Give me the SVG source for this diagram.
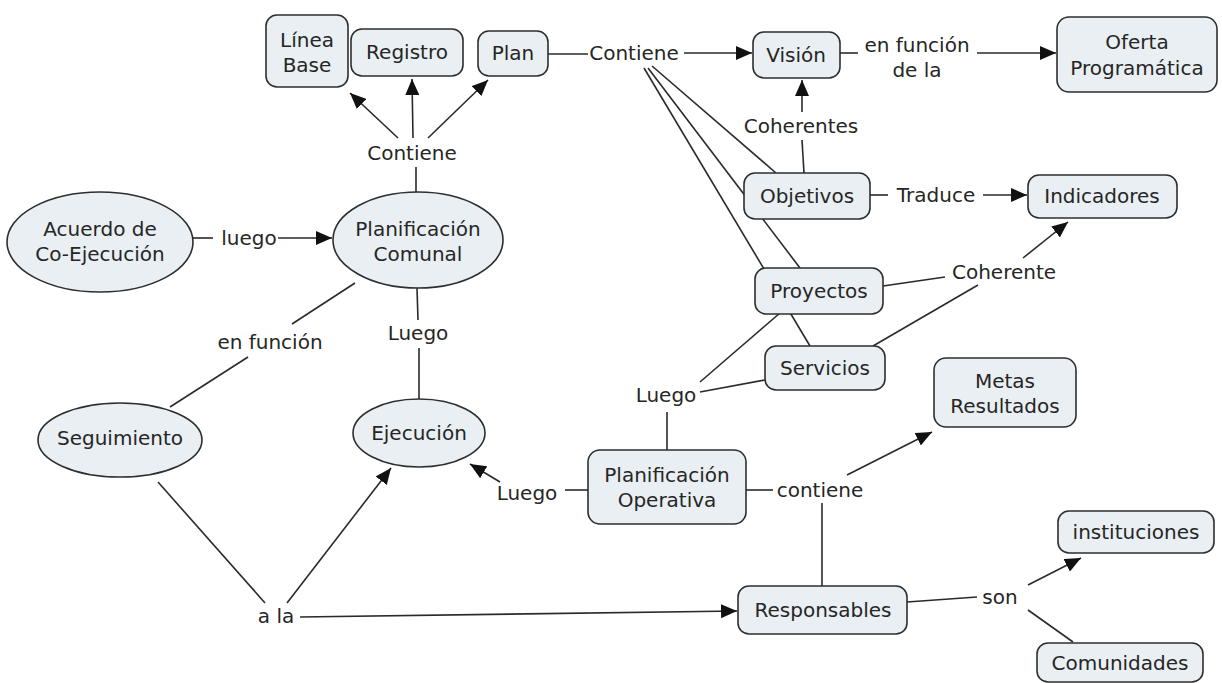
<svg xmlns="http://www.w3.org/2000/svg" width="1222" height="683" viewBox="0 0 1222 683">
  <style>
    .concept { fill: #e9eff2; stroke: #2e2e2e; stroke-width: 1.6; }
    .link { fill: none; stroke: #2a2a2a; stroke-width: 1.6; }
    .arrow { marker-end: url(#head); }
    text { font-family: "DejaVu Sans", Verdana, sans-serif; font-size: 20px; fill: #262626; text-anchor: middle; dominant-baseline: central; }
  </style>
  <defs>
    <marker id="head" viewBox="0 0 16 14" refX="16" refY="7" markerWidth="16" markerHeight="14" orient="auto" markerUnits="userSpaceOnUse">
      <path d="M0,0 L16,7 L0,14 z" fill="#111"/>
    </marker>
  </defs>
  <rect width="1222" height="683" fill="#ffffff"/>

  <!-- connectors -->
  <g id="connectors">
    <line class="link arrow" x1="398" y1="138" x2="350" y2="93"/>
    <line class="link arrow" x1="413" y1="138" x2="412" y2="79"/>
    <line class="link arrow" x1="428" y1="138" x2="488" y2="80"/>
    <line class="link" x1="416" y1="192" x2="416" y2="167"/>
    <line class="link" x1="548" y1="54" x2="588" y2="54"/>
    <line class="link arrow" x1="684" y1="53" x2="752" y2="53"/>
    <line class="link" x1="652" y1="66" x2="776" y2="173"/>
    <line class="link" x1="648" y1="68" x2="800" y2="268"/>
    <line class="link" x1="644" y1="68" x2="810" y2="346"/>
    <line class="link" x1="840" y1="53" x2="858" y2="53"/>
    <line class="link arrow" x1="977" y1="53" x2="1056" y2="53"/>
    <line class="link" x1="804" y1="173" x2="802" y2="140"/>
    <line class="link arrow" x1="802" y1="112" x2="802" y2="80"/>
    <line class="link" x1="870" y1="195" x2="888" y2="195"/>
    <line class="link arrow" x1="983" y1="195" x2="1027" y2="195"/>
    <line class="link" x1="883" y1="286" x2="945" y2="277"/>
    <line class="link" x1="873" y1="346" x2="978" y2="285"/>
    <line class="link arrow" x1="1023" y1="258" x2="1068" y2="222"/>
    <line class="link" x1="667" y1="450" x2="667" y2="412"/>
    <line class="link" x1="700" y1="382" x2="780" y2="313"/>
    <line class="link" x1="700" y1="392" x2="765" y2="380"/>
    <line class="link" x1="588" y1="490" x2="565" y2="490"/>
    <line class="link arrow" x1="500" y1="482" x2="470" y2="464"/>
    <line class="link" x1="746" y1="490" x2="773" y2="490"/>
    <line class="link arrow" x1="847" y1="475" x2="932" y2="432"/>
    <line class="link" x1="822" y1="503" x2="822" y2="586"/>
    <line class="link" x1="907" y1="602" x2="977" y2="597"/>
    <line class="link arrow" x1="1028" y1="585" x2="1081" y2="558"/>
    <line class="link" x1="1028" y1="610" x2="1073" y2="642"/>
    <line class="link" x1="193" y1="238" x2="213" y2="238"/>
    <line class="link arrow" x1="278" y1="238" x2="332" y2="238"/>
    <line class="link" x1="355" y1="283" x2="292" y2="324"/>
    <line class="link" x1="248" y1="357" x2="170" y2="407"/>
    <line class="link" x1="417" y1="288" x2="418" y2="320"/>
    <line class="link" x1="419" y1="348" x2="419" y2="399"/>
    <line class="link" x1="158" y1="482" x2="265" y2="603"/>
    <line class="link arrow" x1="287" y1="603" x2="391" y2="468"/>
    <line class="link arrow" x1="300" y1="617" x2="737" y2="611"/>
  </g>

  <!-- concepts -->
  <g id="linea-base"><rect class="concept" x="266" y="15" width="82" height="72" rx="11"/><text x="307" y="40">Línea</text><text x="307" y="65">Base</text></g>
  <g id="registro"><rect class="concept" x="351" y="29" width="112" height="47" rx="11"/><text x="407" y="52">Registro</text></g>
  <g id="plan"><rect class="concept" x="478" y="31" width="70" height="45" rx="11"/><text x="513" y="53">Plan</text></g>
  <g id="vision"><rect class="concept" x="753" y="32" width="87" height="46" rx="11"/><text x="796" y="55">Visión</text></g>
  <g id="oferta"><rect class="concept" x="1057" y="17" width="160" height="75" rx="12"/><text x="1137" y="42">Oferta</text><text x="1137" y="68">Programática</text></g>
  <g id="objetivos"><rect class="concept" x="744" y="173" width="126" height="46" rx="11"/><text x="807" y="196">Objetivos</text></g>
  <g id="indicadores"><rect class="concept" x="1028" y="175" width="149" height="43" rx="11"/><text x="1102" y="196">Indicadores</text></g>
  <g id="proyectos"><rect class="concept" x="755" y="268" width="128" height="46" rx="11"/><text x="819" y="291">Proyectos</text></g>
  <g id="servicios"><rect class="concept" x="765" y="346" width="120" height="44" rx="11"/><text x="825" y="368">Servicios</text></g>
  <g id="metas"><rect class="concept" x="934" y="358" width="142" height="69" rx="12"/><text x="1005" y="381">Metas</text><text x="1005" y="406">Resultados</text></g>
  <g id="planificacion-operativa"><rect class="concept" x="588" y="450" width="158" height="74" rx="12"/><text x="667" y="475">Planificación</text><text x="667" y="500">Operativa</text></g>
  <g id="responsables"><rect class="concept" x="738" y="586" width="169" height="48" rx="11"/><text x="823" y="610">Responsables</text></g>
  <g id="instituciones"><rect class="concept" x="1058" y="511" width="156" height="42" rx="11"/><text x="1136" y="532">instituciones</text></g>
  <g id="comunidades"><rect class="concept" x="1037" y="643" width="166" height="39" rx="11"/><text x="1120" y="663">Comunidades</text></g>
  <g id="acuerdo"><ellipse class="concept" cx="100" cy="242" rx="93" ry="50"/><text x="100" y="229">Acuerdo de</text><text x="100" y="254">Co-Ejecución</text></g>
  <g id="planificacion-comunal"><ellipse class="concept" cx="418" cy="240" rx="85" ry="48"/><text x="418" y="229">Planificación</text><text x="418" y="254">Comunal</text></g>
  <g id="seguimiento"><ellipse class="concept" cx="120" cy="440" rx="82" ry="37"/><text x="120" y="438">Seguimiento</text></g>
  <g id="ejecucion"><ellipse class="concept" cx="419" cy="433" rx="66" ry="34"/><text x="419" y="433">Ejecución</text></g>

  <!-- linking phrases -->
  <g id="lp-contiene-1"><text x="412" y="153">Contiene</text></g>
  <g id="lp-contiene-2"><text x="634" y="53">Contiene</text></g>
  <g id="lp-en-funcion-de-la"><text x="917" y="45">en función</text><text x="917" y="70">de la</text></g>
  <g id="lp-coherentes"><text x="801" y="126">Coherentes</text></g>
  <g id="lp-traduce"><text x="936" y="195">Traduce</text></g>
  <g id="lp-coherente"><text x="1004" y="272">Coherente</text></g>
  <g id="lp-luego-1"><text x="249" y="238">luego</text></g>
  <g id="lp-en-funcion"><text x="270" y="342">en función</text></g>
  <g id="lp-luego-2"><text x="418" y="333">Luego</text></g>
  <g id="lp-luego-3"><text x="666" y="395">Luego</text></g>
  <g id="lp-luego-4"><text x="527" y="493">Luego</text></g>
  <g id="lp-contiene-3"><text x="820" y="490">contiene</text></g>
  <g id="lp-son"><text x="1000" y="597">son</text></g>
  <g id="lp-a-la"><text x="276" y="616">a la</text></g>
</svg>
